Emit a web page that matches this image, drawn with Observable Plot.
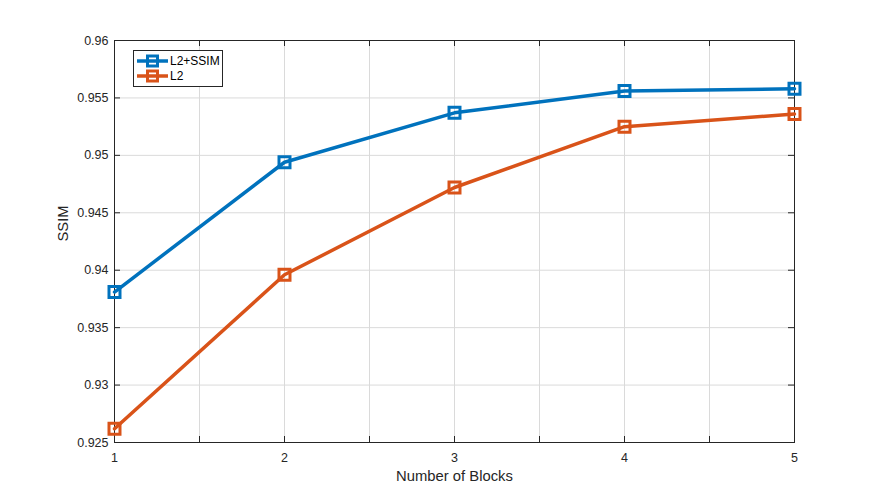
<!DOCTYPE html>
<html>
<head>
<meta charset="utf-8">
<script src="https://cdn.jsdelivr.net/npm/d3@7"></script>
<script src="https://cdn.jsdelivr.net/npm/@observablehq/plot@0.6"></script>
<style>
  body { margin: 0; background: #fff; font-family: "Liberation Sans", Arial, Helvetica, sans-serif; }
  #wrap { position: relative; width: 877px; height: 500px; }
  #legend { position: absolute; left: 133px; top: 50px; }
</style>
</head>
<body>
<div id="wrap"><div id="chart"></div><div id="legend"></div></div>
<script>
const blocks = [1, 2, 3, 4, 5];
const ssimL2SSIM = [0.9381, 0.9494, 0.9537, 0.9556, 0.9558];
const ssimL2 = [0.9262, 0.9396, 0.9472, 0.9525, 0.9536];
const seriesNames = ["L2+SSIM", "L2"];
const seriesColors = ["#0072BD", "#D95319"];
const xTickLabels = [1, 2, 3, 4, 5];
const xMinorTicks = [1, 1.5, 2, 2.5, 3, 3.5, 4, 4.5, 5];
const yTicks = [0.925, 0.93, 0.935, 0.94, 0.945, 0.95, 0.955, 0.96];

const data = [];
blocks.forEach((b, i) => data.push({x: b, y: ssimL2SSIM[i], s: seriesNames[0]}));
blocks.forEach((b, i) => data.push({x: b, y: ssimL2[i], s: seriesNames[1]}));

const W = 877, H = 500, mL = 114, mR = 83, mT = 40, mB = 58;
const pw = W - mL - mR, ph = H - mT - mB, tl = 6;
const axisColor = "#262626";

const chart = Plot.plot({
  width: W, height: H,
  marginLeft: mL, marginRight: mR, marginTop: mT, marginBottom: mB,
  style: {fontFamily: "'Liberation Sans', Arial, sans-serif", fontSize: "13px", color: axisColor, background: "#fff"},
  x: {domain: [1, 5], axis: null},
  y: {domain: [0.925, 0.96], axis: null},
  color: {domain: seriesNames, range: seriesColors},
  marks: [
    Plot.gridX(xMinorTicks, {stroke: "#dadada", strokeOpacity: 1}),
    Plot.gridY(yTicks, {stroke: "#dadada", strokeOpacity: 1}),
    Plot.frame({stroke: axisColor, strokeWidth: 1}),
    Plot.tickX(xMinorTicks, {x: d => d, insetTop: ph - tl, stroke: axisColor}),
    Plot.tickX(xMinorTicks, {x: d => d, insetBottom: ph - tl, stroke: axisColor}),
    Plot.tickY(yTicks, {y: d => d, insetRight: pw - tl, stroke: axisColor}),
    Plot.tickY(yTicks, {y: d => d, insetLeft: pw - tl, stroke: axisColor}),
    Plot.text(xTickLabels, {x: d => d, frameAnchor: "bottom", dy: 19, text: d => String(d), fill: axisColor, fontSize: 12.5}),
    Plot.text(yTicks, {y: d => d, frameAnchor: "left", dx: -6, textAnchor: "end", text: d => String(+d.toFixed(3)), fill: axisColor, fontSize: 12.5}),
    Plot.text(["Number of Blocks"], {frameAnchor: "bottom", dy: 38, fill: axisColor, fontSize: 14.8}),
    Plot.text(["SSIM"], {frameAnchor: "left", dx: -51, rotate: -90, fill: axisColor, fontSize: 14.8}),
    Plot.line(data, {x: "x", y: "y", z: "s", stroke: "s", strokeWidth: 3.5}),
    Plot.dot(data, {x: "x", y: "y", stroke: "s", symbol: "square", r: 6.2, strokeWidth: 3, fill: "none"})
  ]
});
document.getElementById("chart").appendChild(chart);

// Legend
const lg = d3.select("#legend").append("svg").attr("width", 92).attr("height", 38)
  .style("font-family", "'Liberation Sans', Arial, sans-serif");
lg.append("rect").attr("x", 0.5).attr("y", 0.5).attr("width", 89).attr("height", 36)
  .attr("fill", "#fff").attr("stroke", axisColor).attr("stroke-width", 1);
seriesNames.forEach((name, i) => {
  const yy = 11 + i * 15;
  lg.append("line").attr("x1", 4).attr("x2", 35).attr("y1", yy).attr("y2", yy)
    .attr("stroke", seriesColors[i]).attr("stroke-width", 3.5);
  lg.append("rect").attr("x", 14.5).attr("y", yy - 5).attr("width", 10).attr("height", 10)
    .attr("fill", "none").attr("stroke", seriesColors[i]).attr("stroke-width", 3);
  lg.append("text").attr("x", 37).attr("y", yy + 4).attr("font-size", 12).attr("fill", "#000").text(name);
});
</script>
</body>
</html>
